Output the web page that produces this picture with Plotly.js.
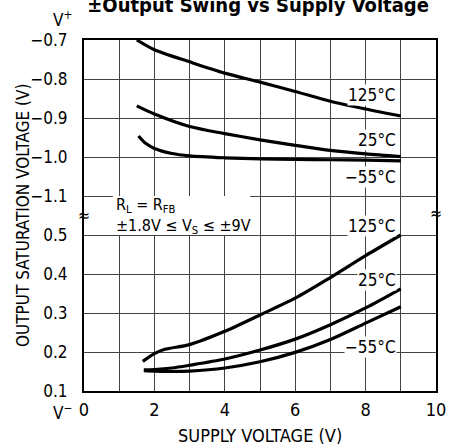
<!DOCTYPE html>
<html>
<head>
<meta charset="utf-8">
<script src="https://cdn.plot.ly/plotly-3.0.1.min.js"></script>
<style>html,body{margin:0;padding:0;background:#fff;}#chart{width:456px;height:444px;}</style>
</head>
<body>
<div id="chart"></div>
<script>
// ---- Data ----
// Upper section: V+ side saturation voltage (negative, relative to V+)
const x125Up = [1.5, 2, 3, 4, 5, 6, 7, 8, 9];
const v125Up = [-0.70, -0.725, -0.756, -0.785, -0.808, -0.832, -0.857, -0.877, -0.895];
const x25Up = [1.5, 2, 3, 4, 5, 6, 7, 8, 9];
const v25Up = [-0.869, -0.89, -0.922, -0.94, -0.956, -0.970, -0.983, -0.992, -0.999];
const xm55Up = [1.55, 1.75, 2, 2.5, 3, 4, 5, 6, 7, 8, 9];
const vm55Up = [-0.946, -0.965, -0.978, -0.991, -0.997, -1.002, -1.005, -1.006, -1.007, -1.008, -1.01];
// Lower section: V- side saturation voltage
const x125Lo = [1.67, 2, 2.3, 3, 4, 5, 6, 7, 8, 9];
const v125Lo = [0.176, 0.196, 0.207, 0.219, 0.253, 0.295, 0.338, 0.391, 0.447, 0.50];
const x25Lo = [1.7, 2, 2.5, 3, 4, 5, 6, 7, 8, 9];
const v25Lo = [0.154, 0.155, 0.159, 0.166, 0.182, 0.205, 0.233, 0.27, 0.313, 0.362];
const xm55Lo = [1.7, 2, 2.5, 3, 4, 5, 6, 7, 8, 9];
const vm55Lo = [0.152, 0.151, 0.150, 0.151, 0.159, 0.175, 0.199, 0.232, 0.274, 0.316];

const xTicks = [0, 2, 4, 6, 8, 10];
const yLowerTicks = [0.1, 0.2, 0.3, 0.4, 0.5];
const yUpperTicks = [-1.1, -1.0, -0.9, -0.8, -0.7];
const seriesLabels = ['125°C', '25°C', '−55°C'];

// ---- Broken-axis mapping: lower band 0.1..0.5 -> 0..4, upper band -1.1..-0.7 -> 5..9
const lowIdx = v => (v - 0.1) * 10;
const upIdx = v => 9 + (v + 0.7) * 10;
const fmt = v => (v < 0 ? '−' : '') + Math.abs(v).toFixed(1);

const FONT = 'DejaVu Sans Condensed, Liberation Sans Narrow, sans-serif';
const line = {color: '#000', width: 3.2, shape: 'spline', smoothing: 0.8};
const mk = (x, y) => ({x: x, y: y, type: 'scatter', mode: 'lines', line: line, hoverinfo: 'skip', showlegend: false});

const traces = [
  mk(x125Up, v125Up.map(upIdx)),
  mk(x25Up, v25Up.map(upIdx)),
  mk(xm55Up, vm55Up.map(upIdx)),
  mk(x125Lo, v125Lo.map(lowIdx)),
  mk(x25Lo, v25Lo.map(lowIdx)),
  mk(xm55Lo, vm55Lo.map(lowIdx))
];

const tickvals = yLowerTicks.map(lowIdx).concat(yUpperTicks.map(upIdx));
const ticktext = yLowerTicks.map(fmt).concat(yUpperTicks.map(fmt));

const L = 84, R = 20, T = 40, B = 53, W = 456, H = 444;
const px2paperX = px => (px - L) / (W - L - R);
const px2paperY = py => 1 - (py - T) / (H - T - B);

const lab = (x, y, t) => ({x: x, y: y, xref: 'x', yref: 'y', text: t, showarrow: false,
  xanchor: 'right', yanchor: 'middle', bgcolor: '#fff', borderpad: 0,
  font: {family: FONT, size: 17, color: '#000'}});

const annotations = [
  lab(8.9, 7.59, seriesLabels[0]),
  lab(8.9, 6.44, seriesLabels[1]),
  lab(8.9, 5.49, seriesLabels[2]),
  lab(8.9, 4.23, seriesLabels[0]),
  lab(8.9, 2.85, seriesLabels[1]),
  lab(8.9, 1.13, seriesLabels[2]),
  {x: 0.85, y: 4.76, xref: 'x', yref: 'y', text: 'R<sub>L</sub> = R<sub>FB</sub>', showarrow: false,
   xanchor: 'left', yanchor: 'middle', font: {family: FONT, size: 16, color: '#000'}},
  {x: 0.85, y: 4.22, xref: 'x', yref: 'y', text: '±1.8V ≤ V<sub>S</sub> ≤ ±9V', showarrow: false,
   xanchor: 'left', yanchor: 'middle', font: {family: FONT, size: 16, color: '#000'}},
  {x: 0, y: 4.5, xref: 'x', yref: 'y', text: '≈', showarrow: false, xanchor: 'center', yanchor: 'middle',
   font: {family: FONT, size: 16, color: '#000'}},
  {x: 10, y: 4.55, xref: 'x', yref: 'y', text: '≈', showarrow: false, xanchor: 'center', yanchor: 'middle',
   font: {family: FONT, size: 16, color: '#000'}},
  {x: px2paperX(62), y: px2paperY(19), xref: 'paper', yref: 'paper', text: 'V<sup>+</sup>', showarrow: false,
   xanchor: 'center', yanchor: 'middle', font: {family: FONT, size: 17, color: '#000'}},
  {x: px2paperX(62), y: px2paperY(412), xref: 'paper', yref: 'paper', text: 'V<sup>−</sup>', showarrow: false,
   xanchor: 'center', yanchor: 'middle', font: {family: FONT, size: 17, color: '#000'}},
  {x: px2paperX(260), y: px2paperY(435), xref: 'paper', yref: 'paper', text: 'SUPPLY VOLTAGE (V)', showarrow: false,
   xanchor: 'center', yanchor: 'middle', font: {family: FONT, size: 18, color: '#000'}},
  {x: px2paperX(23), y: px2paperY(216), xref: 'paper', yref: 'paper', text: 'OUTPUT SATURATION VOLTAGE (V)', showarrow: false,
   textangle: -90, xanchor: 'center', yanchor: 'middle', font: {family: FONT, size: 17, color: '#000'}}
];

const layout = {
  width: W, height: H,
  margin: {l: L, r: R, t: T, b: B},
  paper_bgcolor: '#fff', plot_bgcolor: '#fff',
  font: {family: FONT, size: 18, color: '#000'},
  title: {text: '±Output Swing vs Supply Voltage', x: 0.566, xanchor: 'center', y: 0.989, yref: 'container', yanchor: 'middle',
    font: {family: FONT, size: 20, color: '#000', weight: 'bold'}},
  xaxis: {range: [0, 10], tickvals: xTicks, ticktext: xTicks.map(String), showgrid: true, gridcolor: '#444', gridwidth: 1,
    minor: {dtick: 1, showgrid: true, gridcolor: '#444', gridwidth: 1, ticks: ''},
    zeroline: false, showline: true, linecolor: '#000', linewidth: 2, mirror: true, ticks: '',
    ticklabelstandoff: 1, tickfont: {family: FONT, size: 18}},
  yaxis: {range: [0, 9], tickvals: tickvals, ticktext: ticktext, showgrid: true, gridcolor: '#444', gridwidth: 1,
    zeroline: false, showline: true, linecolor: '#000', linewidth: 2, mirror: true, ticks: '',
    ticklabelstandoff: 11, tickfont: {family: FONT, size: 17}},
  shapes: [
    {type: 'rect', xref: 'x', yref: 'y', x0: 0.82, x1: 4.72, y0: 4, y1: 5, fillcolor: '#fff', line: {width: 0}, layer: 'between'}
  ],
  annotations: annotations
};

Plotly.newPlot('chart', traces, layout, {staticPlot: true, displayModeBar: false});
</script>
</body>
</html>
